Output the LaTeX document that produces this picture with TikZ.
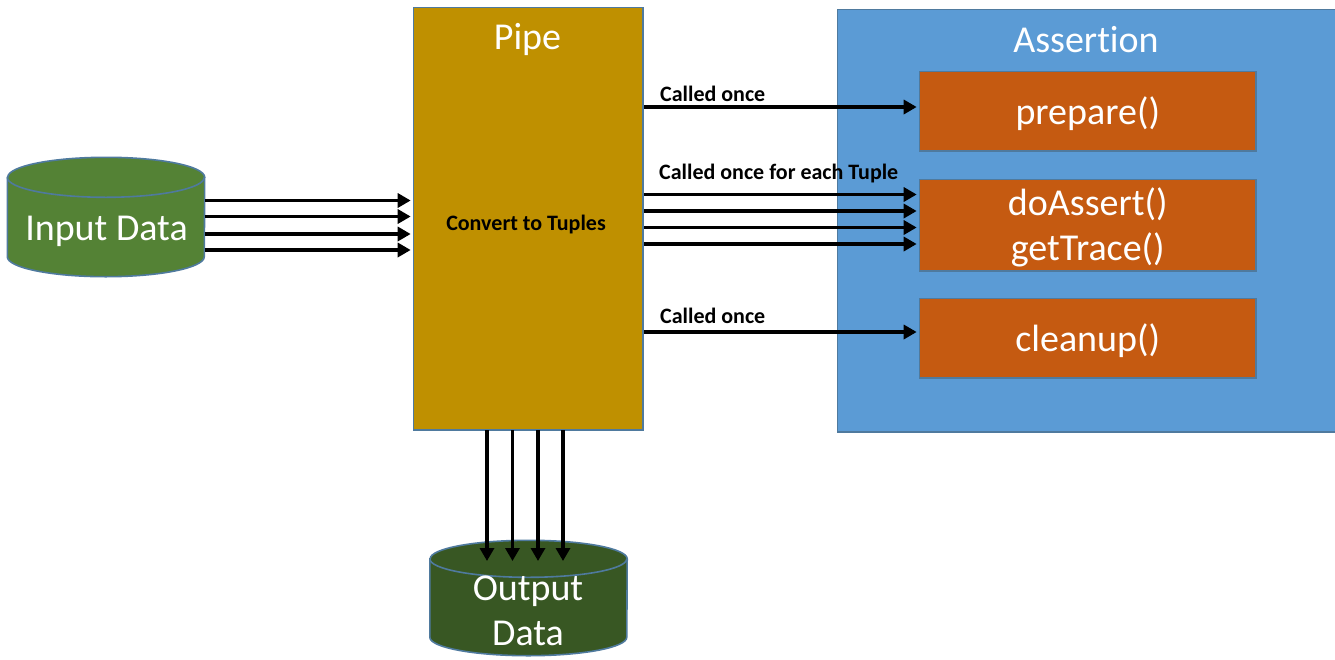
\documentclass[tikz,border=0pt]{standalone}
\usepackage{fontspec}
\setmainfont[Ligatures=NoCommon]{Carlito}
\usetikzlibrary{arrows.meta}
\definecolor{inputgreen}{HTML}{548235}
\definecolor{outputgreen}{HTML}{385723}
\definecolor{pipegold}{HTML}{BF9000}
\definecolor{assertblue}{HTML}{5B9BD5}
\definecolor{methodorange}{HTML}{C55A11}
\definecolor{edgeblue}{HTML}{4F7A9E}
\newcommand\lowered[1]{\raisebox{-2.5pt}[\height][\depth]{#1}}
% body of a data store, drawn round the named node #1: fill #2, end-ellipse radius #3
\newcommand\storebody[3]{%
  \draw[storeline,fill=#2] ([yshift=-#3]#1.north west)
    -- ([yshift=#3]#1.south west)
    arc[start angle=180,end angle=360,x radius=98.5pt,y radius=#3]
    -- ([yshift=-#3]#1.north east)
    arc[start angle=0,end angle=180,x radius=98.5pt,y radius=#3] -- cycle;
  \draw[storeline] ([yshift=-#3]#1.north west)
    arc[start angle=180,end angle=360,x radius=98.5pt,y radius=#3];
}
\tikzset{
  x=1pt,y=-1pt,
  box/.style={draw=edgeblue,line width=1.6pt,inner sep=0pt,anchor=north west,text=white},
  bigtext/.style={font=\fontsize{38}{45}\selectfont},
  methodbox/.style={box,bigtext,fill=methodorange,minimum width=336.5pt,align=center},
  store/.style={inner sep=0pt,minimum width=197pt},
  storeline/.style={draw=edgeblue,line width=1.6pt},
  storetext/.style={bigtext,text=white,inner sep=0pt,align=center},
  flow/.style={draw=black,line width=3.6pt,shorten >=2pt,-{Triangle[length=13pt,width=14pt]}},
  calltext/.style={font=\fontsize{22}{26}\selectfont\bfseries,anchor=base west,inner sep=0pt},
}
\begin{document}
\begin{tikzpicture}
\useasboundingbox (0,0) rectangle (1335,659);
% containers
\node[box,fill=pipegold,minimum width=229.5pt,minimum height=422.5pt] (pipe) at (412.7,6.7) {};
\node[bigtext,text=white,inner sep=0pt] (pipetitle) at (527.5,39) {Pipe};
\node[font=\fontsize{22}{26}\selectfont\bfseries,inner sep=0pt] (convert) at (526,225) {Convert to Tuples};
\node[box,fill=assertblue,minimum width=500pt,minimum height=422.5pt] (assertion) at (836.7,8.7) {};
\node[bigtext,text=white,inner sep=0pt] (asserttitle) at (1086,40) {Assertion};
% methods
\node[methodbox,minimum height=79.5pt] (prepare) at (918.7,70.7) {\lowered{prepare()}};
\node[methodbox,minimum height=91.5pt] (doassert) at (918.7,178.7) {\lowered{doAssert()}\\\lowered{getTrace()}};
\node[methodbox,minimum height=79.5pt] (cleanup) at (918.7,297.7) {\lowered{cleanup()}};
% stores
\node[store,minimum height=119pt] (input) at (106,217) {};
\storebody{input}{inputgreen}{20pt}
\node[storetext] (inputtext) at (106.5,231) {Input Data};
\node[store,minimum height=115pt] (output) at (528.5,598) {};
\storebody{output}{outputgreen}{18.5pt}
\node[storetext] (outputtext) at (528,611) {Output\\Data};
% input to pipe
\foreach \y in {200.5,216.5,234,250}{
  \coordinate (s) at (input.east |- 0,\y);
  \draw[flow] (s) -- (s -| pipe.west);
}
% pipe to assertion
\coordinate (once1) at (pipe.east |- 0,107);
\draw[flow] (once1) -- (once1 -| prepare.west);
\foreach \y in {194.5,211,227.5,244}{
  \coordinate (t) at (pipe.east |- 0,\y);
  \draw[flow] (t) -- (t -| doassert.west);
}
\coordinate (once2) at (pipe.east |- 0,332);
\draw[flow] (once2) -- (once2 -| cleanup.west);
% pipe to output
\foreach \x in {487,512.5,538,563}{
  \coordinate (d) at (\x,430);
  \coordinate (e) at (\x,563);
  \draw[flow] (d) -- (e);
}
% labels
\node[calltext] (l1) at (660,101) {Called once};
\node[calltext] (l2) at (659,179) {Called once for each Tuple};
\node[calltext] (l3) at (660,323) {Called once};
\end{tikzpicture}
\end{document}
